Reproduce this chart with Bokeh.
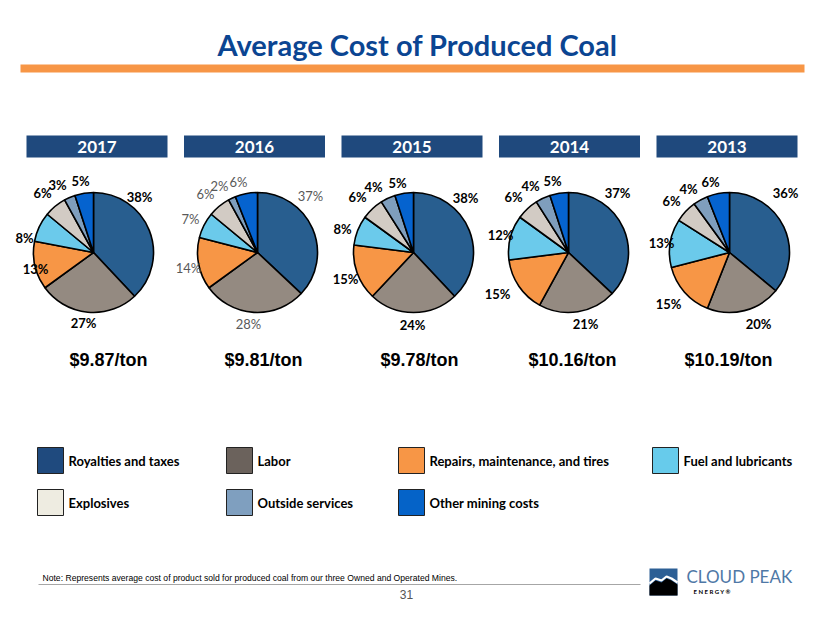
import numpy as np
from bokeh.plotting import figure
from bokeh.models import Range1d, ColumnDataSource
from bokeh.core.properties import value
from bokeh.embed import file_html
from bokeh.resources import INLINE

# ---------------- data ----------------
categories = ["Royalties and taxes", "Labor", "Repairs, maintenance, and tires",
              "Fuel and lubricants", "Explosives", "Outside services", "Other mining costs"]
years = ["2017", "2016", "2015", "2014", "2013"]
share_2017 = [38, 27, 13, 8, 6, 3, 5]
share_2016 = [37, 28, 14, 7, 6, 2, 6]
share_2015 = [38, 24, 15, 8, 6, 4, 5]
share_2014 = [37, 21, 15, 12, 6, 4, 5]
share_2013 = [36, 20, 15, 13, 6, 4, 6]
cost_per_ton = ["$9.87/ton", "$9.81/ton", "$9.78/ton", "$10.16/ton", "$10.19/ton"]
shares = [share_2017, share_2016, share_2015, share_2014, share_2013]

# ---------------- styles / layout ----------------
W, H = 830, 623
pie_colors = ["#285E8F", "#948A81", "#F79646", "#6BCAEB", "#D2CBC4", "#7F9EBD", "#0563CF"]
legend_colors = ["#1F4A7E", "#6B625C", "#F79646", "#67CBEB", "#EEECE1", "#7F9FBF", "#0563C8"]
pie_cx = [93, 257, 413, 568, 729]
pie_cy = 252
radius = 60
header_cx = [96.5, 254, 411.5, 569, 726.5]
price_cx = [108, 263, 419, 572, 728]
# label offsets (dx, dy-down) from pie centre, per pie
label_off = [
    [(46, -56), (-10, 70), (-58, 16), (-69, -15), (-51, -60), (-36, -68), (-13, -72)],
    [(53, -57), (-9, 71), (-69, 15), (-67, -34), (-52, -59), (-38, -67), (-19, -71)],
    [(52, -55), (-1, 72), (-68, 26), (-71, -24), (-56, -56), (-40, -66), (-16, -70)],
    [(49, -60), (17, 71), (-71, 41), (-68, -18), (-55, -56), (-38, -67), (-16, -72)],
    [(56, -60), (29, 71), (-61, 51), (-68, -10), (-58, -52), (-41, -64), (-19, -71)],
]


def Y(py):
    return H - py


p = figure(width=W, height=H, x_range=Range1d(0, W), y_range=Range1d(0, H),
           output_backend="svg", toolbar_location=None, min_border=0)
p.axis.visible = False
p.grid.visible = False
p.outline_line_color = None
p.background_fill_color = "white"
p.border_fill_color = "white"

# title
p.text(x=[W / 2 + 2], y=[Y(44)], text=["Average Cost of Produced Coal"],
       text_font=value("Lato"), text_font_style="bold", text_font_size="29px",
       text_color="#0B4592", text_align="center", text_baseline="middle")
p.quad(left=[20], right=[804], top=[Y(64)], bottom=[Y(72)],
       fill_color="#F79646", line_color=None)

# pies
for i, yr in enumerate(years):
    vals = np.array(shares[i], dtype=float)
    frac = vals / vals.sum()
    cum = np.concatenate([[0], np.cumsum(frac)])
    start = np.pi / 2 - 2 * np.pi * cum[:-1]
    end = np.pi / 2 - 2 * np.pi * cum[1:]
    src = ColumnDataSource(dict(x=[pie_cx[i]] * len(vals), y=[Y(pie_cy)] * len(vals),
                                start=start, end=end, color=pie_colors))
    p.wedge(x="x", y="y", radius=radius, radius_units="screen",
            start_angle="start", end_angle="end", direction="clock",
            fill_color="color", line_color="black", line_width=1.6, source=src)
    # header box
    p.quad(left=[header_cx[i] - 70.5], right=[header_cx[i] + 70.5],
           top=[Y(135)], bottom=[Y(157)], fill_color="#1F497D", line_color=None)
    p.text(x=[header_cx[i]], y=[Y(146.5)], text=[yr], text_font=value("Lato"),
           text_font_style="bold", text_font_size="17px", text_color="white",
           text_align="center", text_baseline="middle")
    # percentage labels
    lx = [pie_cx[i] + d[0] for d in label_off[i]]
    ly = [Y(pie_cy + d[1]) for d in label_off[i]]
    lt = [f"{int(v)}%" for v in shares[i]]
    gray = (yr == "2016")
    p.text(x=lx, y=ly, text=lt, text_font=value("Lato"),
           text_font_style="normal" if gray else "bold", text_font_size="13px",
           text_color="#595959" if gray else "black",
           text_align="center", text_baseline="middle")
    # price
    p.text(x=[price_cx[i]], y=[Y(359)], text=[cost_per_ton[i]],
           text_font=value("Liberation Sans"), text_font_style="bold",
           text_font_size="18px", text_color="black",
           text_align="center", text_baseline="middle")

# legend
leg_x = [37, 226, 398, 652, 37, 226, 398]
leg_y = [447, 447, 447, 447, 489, 489, 489]
for k, cat in enumerate(categories):
    p.quad(left=[leg_x[k]], right=[leg_x[k] + 26], top=[Y(leg_y[k])],
           bottom=[Y(leg_y[k] + 26)], fill_color=legend_colors[k],
           line_color="#222222", line_width=1)
    p.text(x=[leg_x[k] + 31], y=[Y(leg_y[k] + 13)], text=[cat],
           text_font=value("Lato"), text_font_style="bold", text_font_size="13px",
           text_color="black", text_align="left", text_baseline="middle")

# footer
p.text(x=[42], y=[Y(577)],
       text=["Note:  Represents average cost of product sold for produced coal from our three Owned and Operated Mines."],
       text_font=value("Liberation Sans"), text_font_size="8.6px",
       text_color="black", text_align="left", text_baseline="middle")
p.line(x=[38, 640], y=[Y(584), Y(584)], line_color="#A6A6A6", line_width=1.2)
p.text(x=[406], y=[Y(594)], text=["31"], text_font=value("Liberation Sans"),
       text_font_size="12px", text_color="#555555", text_align="center",
       text_baseline="middle")

# logo
p.quad(left=[649], right=[677], top=[Y(568)], bottom=[Y(595)],
       fill_color="#2C5F95", line_color=None)
p.patch(x=[649, 655, 661, 666, 671, 677, 677, 649],
        y=[Y(585), Y(580), Y(582), Y(578), Y(580), Y(584), Y(595), Y(595)],
        fill_color="black", line_color=None)
p.line(x=[649, 655, 661, 666, 671, 677],
       y=[Y(583), Y(578), Y(580), Y(576), Y(578), Y(582)],
       line_color="white", line_width=2.2)
p.text(x=[686], y=[Y(576)], text=["CLOUD PEAK"], text_font=value("Lato"),
       text_font_size="17px", text_color="#4F78A6", text_align="left",
       text_baseline="middle")
p.text(x=[693], y=[Y(591)], text=["E N E R G Y ®"], text_font=value("Lato"),
       text_font_style="bold", text_font_size="6px", text_color="black",
       text_align="left", text_baseline="middle")

open("out.html", "w").write(file_html(p, INLINE))
